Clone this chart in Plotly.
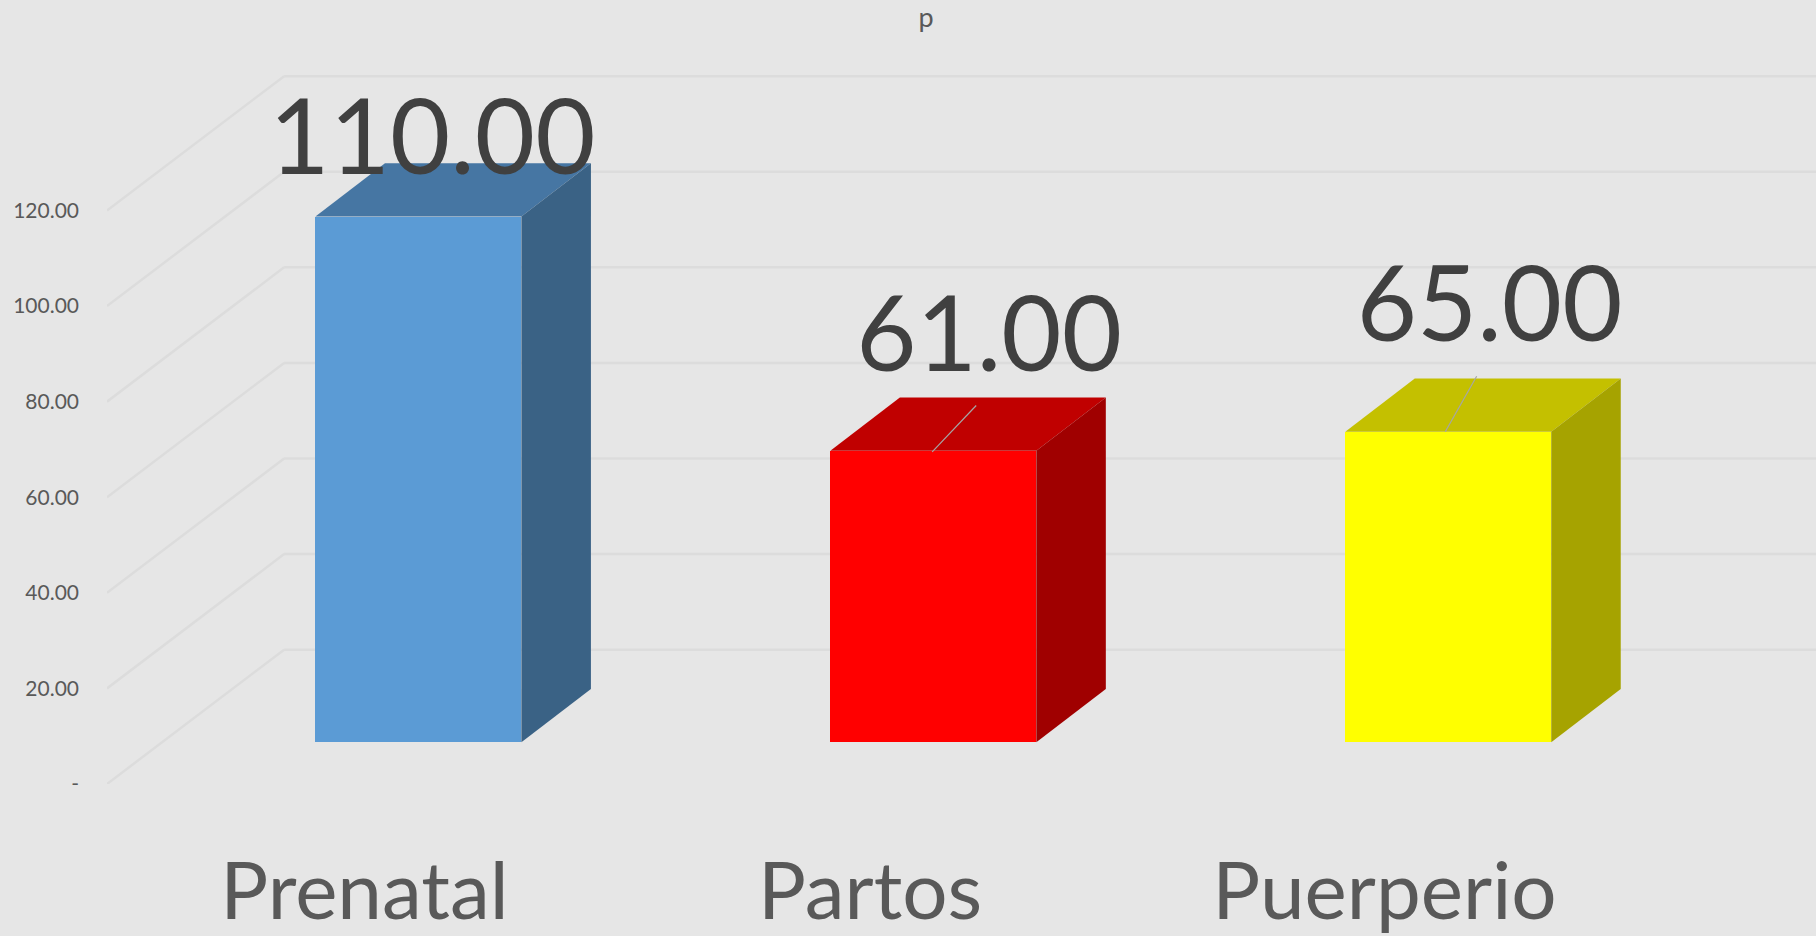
import plotly.graph_objects as go

categories = ["Prenatal", "Partos", "Puerperio"]
values = [110, 61, 65]
value_labels = ["110.00", "61.00", "65.00"]
axis_values = [0, 20, 40, 60, 80, 100, 120]
axis_labels = ["-", "20.00", "40.00", "60.00", "80.00", "100.00", "120.00"]
chart_title = "p"

front_colors = ["#5B9BD5", "#FF0000", "#FFFF00"]
top_colors = ["#4676A3", "#C00000", "#C4C000"]
side_colors = ["#3A6285", "#A00000", "#A6A300"]

# Oblique projection of the 3-D box, in axis units
WALL_DX, WALL_DY = 0.344, 28.1
BAR_OFF_DX, BAR_OFF_DY = 0.1068, 8.72
DEPTH_DX, DEPTH_DY = 0.135, 11.15
HALF = 0.2

# Data label offsets from each bar top (axis units)
label_dx = [0.134, 0.215, 0.187]
label_dy = [23.0, 30.8, 33.1]
# Category label nudges along the x axis
tick_dx = [0.002, -0.016, -0.017]
# Leader lines (None = no leader): start offset, end offset from the bar top
leader = [None, (0.1046, 8.5, 0.19, 18.2), (0.101, 8.7, 0.162, 20.3)]

X0, X1 = -0.498, 2.821
Y0, Y1 = 0, 164.04
GRID = "#DCDCDC"
BG = "#E6E6E6"

shapes = []
for v in axis_values:
    for (a, b, c, d) in [(X0, v, X0 + WALL_DX, v + WALL_DY),
                         (X0 + WALL_DX, v + WALL_DY, X1, v + WALL_DY)]:
        shapes.append(dict(type="line", xref="x", yref="y", x0=a, y0=b, x1=c, y1=d,
                           layer="below", line=dict(color=GRID, width=2.5)))

fig = go.Figure()

fig.add_trace(go.Bar(
    x=[i + BAR_OFF_DX for i in range(len(values))],
    y=values,
    base=BAR_OFF_DY,
    width=HALF * 2,
    marker=dict(color=front_colors, line=dict(width=0)),
    hoverinfo="skip",
))

for i, v in enumerate(values):
    l = i + BAR_OFF_DX - HALF
    r = i + BAR_OFF_DX + HALF
    t = v + BAR_OFF_DY
    b = BAR_OFF_DY
    fig.add_trace(go.Scatter(
        x=[l, r, r + DEPTH_DX, l + DEPTH_DX, l],
        y=[t, t, t + DEPTH_DY, t + DEPTH_DY, t],
        mode="lines", fill="toself", fillcolor=top_colors[i],
        line=dict(width=0), hoverinfo="skip"))
    fig.add_trace(go.Scatter(
        x=[r, r + DEPTH_DX, r + DEPTH_DX, r, r],
        y=[t, t + DEPTH_DY, b + DEPTH_DY, b, t],
        mode="lines", fill="toself", fillcolor=side_colors[i],
        line=dict(width=0), hoverinfo="skip"))

for i, v in enumerate(values):
    if leader[i]:
        a, b, c, d = leader[i]
        fig.add_trace(go.Scatter(
            x=[i + a, i + c], y=[v + b, v + d], mode="lines",
            line=dict(color="#A6A6A6", width=1.2), hoverinfo="skip"))

fig.add_trace(go.Scatter(
    x=[i + dx for i, dx in enumerate(label_dx)],
    y=[v + dy for v, dy in zip(values, label_dy)],
    mode="text", text=value_labels, textposition="middle center",
    textfont=dict(family="Lato", size=104, color="#404040"),
    hoverinfo="skip", cliponaxis=False))

fig.update_layout(
    width=1816, height=936,
    autosize=False,
    paper_bgcolor=BG, plot_bgcolor=BG,
    showlegend=False,
    bargap=0,
    margin=dict(l=106.5, r=0, t=0, b=151.7, pad=0),
    shapes=shapes,
    title=dict(text=chart_title, x=926 / 1816, xanchor="center",
               y=1 - 18 / 936, yanchor="middle", yref="container",
               font=dict(family="Lato", size=27, color="#595959")),
    xaxis=dict(range=[X0, X1], tickmode="array",
               tickvals=[i + d for i, d in enumerate(tick_dx)],
               ticktext=categories, showgrid=False, zeroline=False, showline=False,
               ticks="", ticklabelstandoff=54,
               tickfont=dict(family="Lato", size=80, color="#595959")),
    yaxis=dict(range=[Y0, Y1], tickmode="array", tickvals=axis_values,
               ticktext=axis_labels, showgrid=False, zeroline=False, showline=False,
               ticks="", ticklabelstandoff=27,
               tickfont=dict(family="Lato", size=21, color="#595959")),
)

fig.write_html("out.html", config=dict(displayModeBar=False),
               post_script="document.body.style.margin='0';document.documentElement.style.overflow='hidden';")
